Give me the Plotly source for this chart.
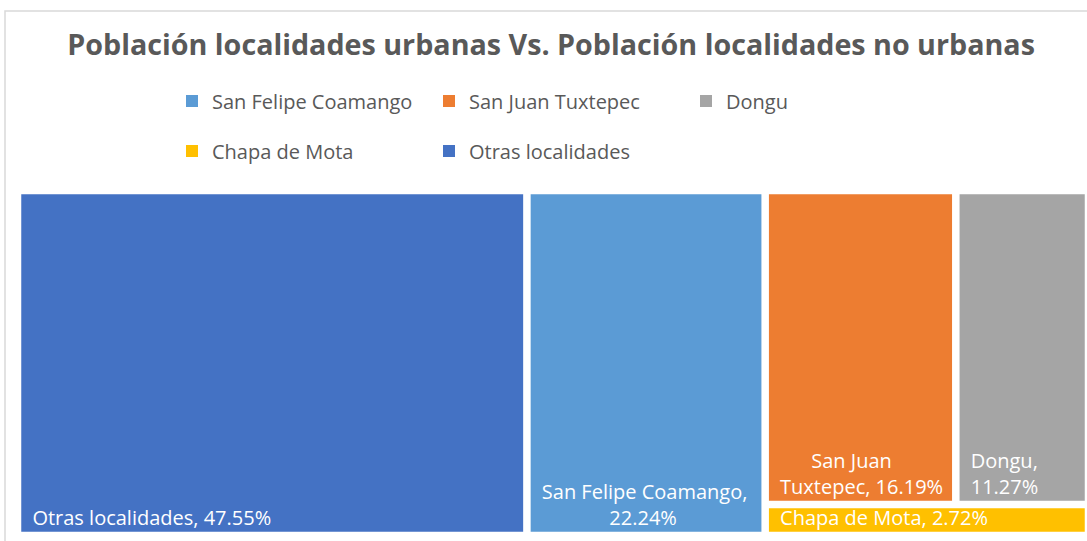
import plotly.graph_objects as go

# ---- data ----
categories = ["Otras localidades", "San Felipe Coamango", "San Juan Tuxtepec", "Dongu", "Chapa de Mota"]
shares = [47.55, 22.24, 16.19, 11.27, 2.72]
colors = ["#4472C4", "#5B9BD5", "#ED7D31", "#A5A5A5", "#FFC000"]
label_lines = [["Otras localidades"], ["San Felipe Coamango"], ["San Juan", "Tuxtepec"], ["Dongu"], ["Chapa de Mota"]]
value_on_new_line = [False, True, False, True, False]
legend_row1 = ["San Felipe Coamango", "San Juan Tuxtepec", "Dongu"]
legend_row2 = ["Chapa de Mota", "Otras localidades"]
title_text = "Población localidades urbanas Vs. Población localidades no urbanas"

FONT = "Open Sans"
GREY = "#595959"
SP = "&nbsp;"


def indent(n):
    return SP * n


# label layout: small left inset, roughly centred short lines like the original
first_line_indent = [2, 2, 8, 2, 2]
value_line_indent = [0, 15, 0, 2, 0]

label_text = []
label_templates = []
for lines, newline, i1, i2 in zip(label_lines, value_on_new_line, first_line_indent, value_line_indent):
    parts = [indent(i1) + lines[0]] + [indent(2) + ln for ln in lines[1:]]
    label_text.append("<br>".join(parts))
    if newline:
        label_templates.append("%{text},<br>" + indent(i2) + "%{value:.2f}%")
    else:
        label_templates.append("%{text}, %{value:.2f}%")

fig = go.Figure()

fig.add_trace(go.Treemap(
    labels=categories,
    parents=[""] * len(categories),
    values=shares,
    text=label_text,
    texttemplate=label_templates,
    textposition="bottom left",
    textfont=dict(family=FONT, size=20, color="white"),
    marker=dict(colors=colors, line=dict(color="white", width=4.5),
                pad=dict(t=0, l=0, r=0, b=0)),
    tiling=dict(packing="squarify", squarifyratio=1.3),
    pathbar=dict(visible=False),
    sort=True,
    hoverinfo="label+value",
))

color_of = dict(zip(categories, colors))
for name in legend_row1:
    fig.add_trace(go.Scatter(x=[None], y=[None], mode="markers", name=name,
                             marker=dict(symbol="square", size=12, color=color_of[name]),
                             legend="legend"))
for name in legend_row2:
    fig.add_trace(go.Scatter(x=[None], y=[None], mode="markers", name=name,
                             marker=dict(symbol="square", size=12, color=color_of[name]),
                             legend="legend2"))

legend_common = dict(orientation="h", xanchor="left", yanchor="middle",
                     xref="container", yref="container",
                     entrywidth=212, entrywidthmode="pixels",
                     font=dict(family=FONT, size=20, color=GREY),
                     bgcolor="rgba(0,0,0,0)", itemclick=False, itemdoubleclick=False)

fig.update_layout(
    width=1087, height=541,
    margin=dict(l=19, r=0, t=192, b=7, autoexpand=False),
    paper_bgcolor="white", plot_bgcolor="white",
    uniformtext=dict(minsize=19, mode="show"),
    title=dict(text="<b>" + title_text + "</b>", x=0.507, xanchor="center",
               y=0.917, yanchor="middle",
               font=dict(family=FONT, size=28.7, color=GREY)),
    xaxis=dict(visible=False), yaxis=dict(visible=False),
    showlegend=True,
    legend=dict(x=172 / 1087, y=1 - 101 / 541, **legend_common),
    legend2=dict(x=172 / 1087, y=1 - 151 / 541, **legend_common),
    shapes=[dict(type="rect", xref="paper", yref="paper",
                 x0=-14 / 1068, x1=1.05, y0=-0.1, y1=(534 - 11) / 342,
                 line=dict(color="#D9D9D9", width=1.5), layer="below")],
)

fig.write_html("out.html", config={"displayModeBar": False},
               post_script="document.body.style.margin='0';document.body.style.overflow='hidden';")
